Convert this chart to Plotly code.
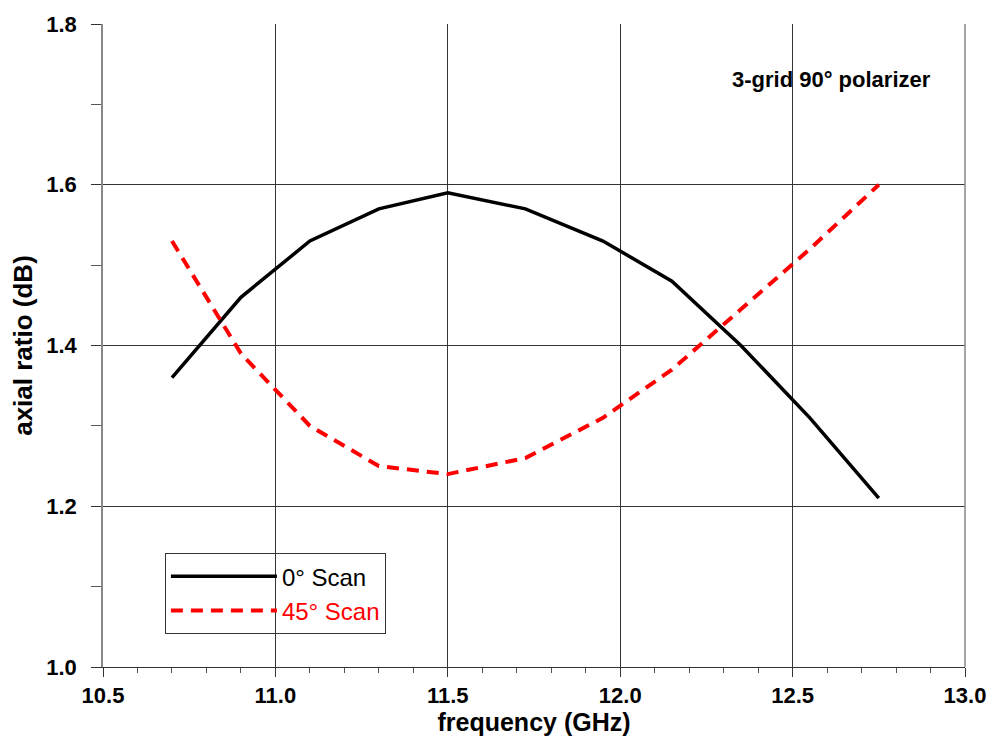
import plotly.graph_objects as go

freq = [10.7, 10.9, 11.1, 11.3, 11.5, 11.725, 11.95, 12.15, 12.35, 12.55, 12.75]
scan0 = [1.36, 1.46, 1.53, 1.57, 1.59, 1.57, 1.53, 1.48, 1.40, 1.31, 1.21]
scan45 = [1.53, 1.39, 1.30, 1.25, 1.24, 1.26, 1.31, 1.37, 1.445, 1.52, 1.60]

x_ticks = [10.5, 11.0, 11.5, 12.0, 12.5, 13.0]
y_ticks = [1.0, 1.2, 1.4, 1.6, 1.8]

FONT = "Liberation Sans, Arial, sans-serif"

fig = go.Figure()
fig.add_trace(go.Scatter(x=freq, y=scan0, mode="lines", name="0° Scan",
                         line=dict(color="black", width=3.5)))
fig.add_trace(go.Scatter(x=freq, y=scan45, mode="lines",
                         name="<span style='color:#ff0000'>45° Scan</span>",
                         line=dict(color="#ff0000", width=4, dash="12px,8px")))

fig.update_layout(
    width=998, height=747,
    margin=dict(l=103, r=31, t=20, b=80),
    plot_bgcolor="white", paper_bgcolor="white",
    font=dict(family=FONT, color="black"),
    showlegend=True,
    legend=dict(x=0.0718, y=0.114, xanchor="left", yanchor="middle",
                bgcolor="rgba(0,0,0,0)", bordercolor="#333333", borderwidth=1,
                font=dict(size=24, family=FONT, color="black"), itemwidth=106,
                tracegroupgap=0),
    annotations=[dict(text="<b>3-grid 90° polarizer</b>", x=0.963, y=0.913,
                      xref="paper", yref="paper", xanchor="right", yanchor="middle",
                      showarrow=False, font=dict(size=22, family=FONT, color="black"))],
)

fig.update_xaxes(
    range=[10.5, 13.0], tickvals=x_ticks, ticktext=[f"<b>{v:.1f}</b>" for v in x_ticks],
    showgrid=True, gridcolor="#333333", gridwidth=1,
    showline=True, linecolor="#333333", linewidth=1, mirror=False,
    ticks="outside", ticklen=9, tickcolor="#333333",
    minor=dict(dtick=0.1, ticks="outside", ticklen=5, tickcolor="#555555", showgrid=False),
    tickfont=dict(size=22, family=FONT),
    title=dict(text="<b>frequency (GHz)</b>", font=dict(size=25, family=FONT), standoff=4),
    zeroline=False,
)
fig.update_yaxes(
    range=[1.0, 1.8], tickvals=y_ticks, ticktext=[f"<b>{v:.1f}</b>" for v in y_ticks],
    showgrid=True, gridcolor="#333333", gridwidth=1,
    showline=True, linecolor="#888888", linewidth=1.5, mirror=False,
    ticks="outside", ticklen=10, tickcolor="#333333",
    minor=dict(dtick=0.1, ticks="outside", ticklen=10, tickcolor="#555555", showgrid=False),
    tickfont=dict(size=22, family=FONT), ticklabelstandoff=10,
    title=dict(text="<b>axial ratio (dB)</b>", font=dict(size=26, family=FONT), standoff=6),
    zeroline=False,
)

# right border of plot area
fig.add_shape(type="line", xref="paper", yref="paper", x0=1, x1=1, y0=0, y1=1,
              line=dict(color="#888888", width=1.5))

fig.write_html("out.html")
